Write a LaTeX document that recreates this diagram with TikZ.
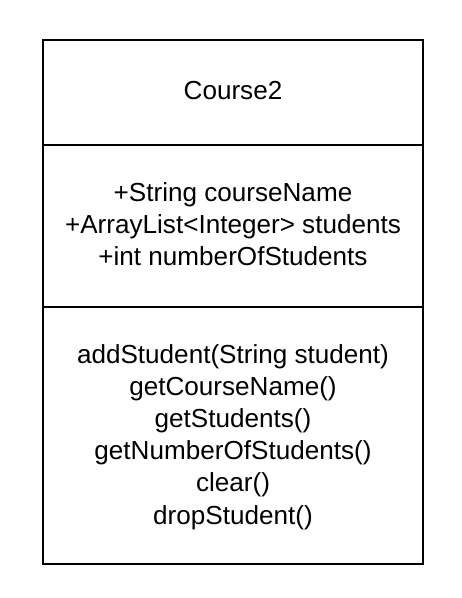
\documentclass[tikz,border=0pt]{standalone}
\usepackage{fontspec}
\setmainfont{Liberation Sans}
\begin{document}
\begin{tikzpicture}[x=1pt,y=1pt,
  umltext/.style={anchor=base,inner sep=0pt,font=\fontsize{26.1}{32}\selectfont},
  umlline/.style={line width=2.8pt,black}]
\useasboundingbox (0,0) rectangle (462,598);
\fill[white] (0,0) rectangle (462,598);
\coordinate (tl) at (43,558);
\coordinate (br) at (423,34);
\coordinate (d1l) at (43,453);
\coordinate (d1r) at (423,453);
\coordinate (d2l) at (43,291);
\coordinate (d2r) at (423,291);
\draw[umlline] (tl) rectangle (br);
\draw[umlline] (d1l) -- (d1r);
\draw[umlline] (d2l) -- (d2r);
\node[umltext] (name) at (233,498.5) {Course2};
\node[umltext] (a1) at (233,396) {+String courseName};
\node[umltext] (a2) at (233,364) {+ArrayList<Integer> students};
\node[umltext] (a3) at (233,332) {+int numberOfStudents};
\node[umltext] (m1) at (233,234) {addStudent(String student)};
\node[umltext] (m2) at (233,202) {getCourseName()};
\node[umltext] (m3) at (233,170) {getStudents()};
\node[umltext] (m4) at (233,138) {getNumberOfStudents()};
\node[umltext] (m5) at (233,106) {clear()};
\node[umltext] (m6) at (233,74) {dropStudent()};
\end{tikzpicture}
\end{document}
